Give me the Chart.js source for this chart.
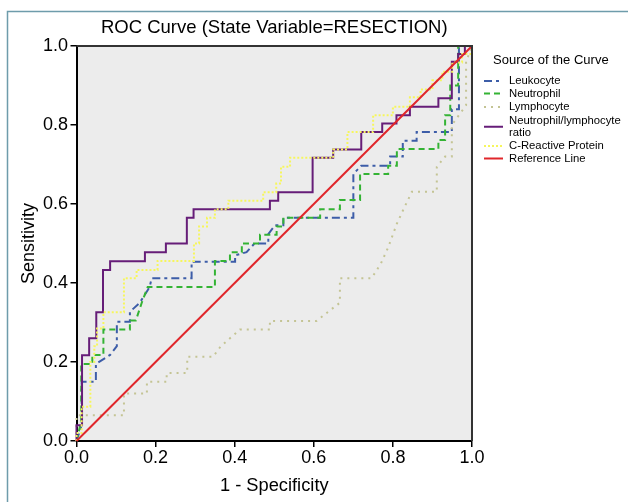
<!DOCTYPE html>
<html>
<head>
<meta charset="utf-8">
<script src="https://cdn.jsdelivr.net/npm/chart.js@4.4.1/dist/chart.umd.min.js"></script>
<style>
  html, body { margin: 0; padding: 0; background: #fff; }
  canvas { display: block; }
</style>
</head>
<body>
<canvas id="rocChart" width="628" height="502"></canvas>
<script>
// values: 1 - specificity (x) and sensitivity (y)
var leukFpr = [0, 0.013, 0.013, 0.049, 0.049, 0.085, 0.102, 0.102, 0.135, 0.135, 0.16, 0.185, 0.19, 0.291, 0.291, 0.401, 0.401, 0.43, 0.45, 0.485, 0.485, 0.502, 0.523, 0.523, 0.70, 0.70, 0.72, 0.793, 0.793, 0.825, 0.825, 0.86, 0.86, 0.949, 0.949, 0.967, 0.967, 1];
var leukTpr = [0, 0.04, 0.15, 0.15, 0.195, 0.218, 0.24, 0.302, 0.302, 0.327, 0.35, 0.39, 0.412, 0.412, 0.454, 0.454, 0.47, 0.478, 0.5, 0.5, 0.524, 0.546, 0.546, 0.565, 0.565, 0.676, 0.697, 0.697, 0.72, 0.72, 0.76, 0.76, 0.782, 0.782, 0.84, 0.84, 1, 1];

var neutFpr = [0, 0.012, 0.012, 0.04, 0.04, 0.068, 0.068, 0.135, 0.135, 0.15, 0.165, 0.18, 0.35, 0.35, 0.388, 0.388, 0.418, 0.418, 0.464, 0.464, 0.506, 0.506, 0.523, 0.523, 0.616, 0.616, 0.666, 0.666, 0.717, 0.717, 0.788, 0.788, 0.81, 0.81, 0.915, 0.915, 0.932, 0.932, 0.945, 0.945, 0.965, 0.965, 1];
var neutTpr = [0, 0.05, 0.195, 0.195, 0.218, 0.218, 0.282, 0.282, 0.305, 0.305, 0.35, 0.39, 0.39, 0.456, 0.456, 0.478, 0.478, 0.5, 0.5, 0.522, 0.522, 0.543, 0.543, 0.565, 0.565, 0.587, 0.587, 0.61, 0.61, 0.676, 0.676, 0.697, 0.697, 0.739, 0.739, 0.762, 0.762, 0.825, 0.825, 0.9, 0.9, 1, 1];

var lymphFpr = [0, 0, 0.12, 0.12, 0.178, 0.178, 0.228, 0.228, 0.28, 0.28, 0.345, 0.365, 0.388, 0.413, 0.489, 0.489, 0.607, 0.64, 0.666, 0.666, 0.746, 0.77, 0.788, 0.81, 0.826, 0.848, 0.911, 0.911, 0.932, 0.949, 0.949, 0.985, 0.985, 1];
var lymphTpr = [0, 0.065, 0.065, 0.12, 0.12, 0.15, 0.15, 0.172, 0.172, 0.213, 0.213, 0.24, 0.26, 0.282, 0.282, 0.304, 0.304, 0.33, 0.35, 0.412, 0.412, 0.45, 0.49, 0.55, 0.585, 0.631, 0.631, 0.694, 0.72, 0.72, 0.8, 0.85, 0.96, 1];

var nlrFpr = [0, 0, 0.014, 0.014, 0.032, 0.032, 0.05, 0.05, 0.067, 0.067, 0.085, 0.085, 0.173, 0.173, 0.226, 0.226, 0.279, 0.279, 0.296, 0.296, 0.489, 0.489, 0.51, 0.51, 0.597, 0.597, 0.649, 0.649, 0.72, 0.72, 0.773, 0.773, 0.809, 0.809, 0.843, 0.843, 0.915, 0.915, 0.949, 0.949, 0.965, 0.965, 0.982, 0.982, 1];
var nlrTpr = [0, 0.04, 0.04, 0.217, 0.217, 0.26, 0.26, 0.326, 0.326, 0.433, 0.433, 0.455, 0.455, 0.478, 0.478, 0.5, 0.5, 0.565, 0.565, 0.587, 0.587, 0.608, 0.608, 0.63, 0.63, 0.717, 0.717, 0.738, 0.738, 0.782, 0.782, 0.804, 0.804, 0.825, 0.825, 0.846, 0.846, 0.868, 0.868, 0.96, 0.96, 0.98, 0.98, 1, 1];

var crpFpr = [0, 0, 0.013, 0.013, 0.035, 0.035, 0.045, 0.045, 0.052, 0.052, 0.068, 0.068, 0.12, 0.12, 0.152, 0.152, 0.205, 0.205, 0.297, 0.297, 0.31, 0.31, 0.33, 0.33, 0.35, 0.35, 0.384, 0.384, 0.472, 0.472, 0.505, 0.505, 0.517, 0.517, 0.54, 0.54, 0.649, 0.649, 0.685, 0.685, 0.75, 0.75, 0.80, 0.80, 0.843, 0.843, 0.87, 0.87, 0.9, 0.9, 0.925, 0.925, 0.95, 0.95, 0.975, 0.975, 1, 1];
var crpTpr = [0, 0.02, 0.02, 0.087, 0.087, 0.2, 0.2, 0.24, 0.24, 0.285, 0.285, 0.326, 0.326, 0.412, 0.412, 0.433, 0.433, 0.456, 0.456, 0.5, 0.5, 0.543, 0.543, 0.565, 0.565, 0.587, 0.587, 0.608, 0.608, 0.63, 0.63, 0.652, 0.652, 0.694, 0.694, 0.717, 0.717, 0.738, 0.738, 0.782, 0.782, 0.825, 0.825, 0.846, 0.846, 0.87, 0.87, 0.89, 0.89, 0.913, 0.913, 0.935, 0.935, 0.958, 0.958, 0.98, 0.98, 1];

var refFpr = [0, 1];
var refTpr = [0, 1];

var seriesNames = ["Leukocyte", "Neutrophil", "Lymphocyte", ["Neutrophil/lymphocyte", "ratio"], "C-Reactive Protein", "Reference Line"];
var tickValues = [0, 0.2, 0.4, 0.6, 0.8, 1.0];

var FONT = "'Liberation Sans', Arial, Helvetica, sans-serif";

function toPoints(xs, ys) {
  var pts = [];
  for (var i = 0; i < xs.length; i++) pts.push({ x: xs[i], y: ys[i] });
  return pts;
}

function line(name, xs, ys, color, dash, order) {
  return {
    label: name,
    data: toPoints(xs, ys),
    showLine: true,
    borderColor: color,
    backgroundColor: color,
    borderWidth: 2,
    borderDash: dash,
    pointRadius: 0,
    pointHoverRadius: 0,
    fill: false,
    tension: 0,
    clip: 4,
    order: order
  };
}

// background, frame, plot box and the legend on the right
const decorations = {
  id: "decorations",
  beforeDraw(chart) {
    const { ctx, chartArea: a } = chart;
    ctx.save();
    ctx.fillStyle = "#fff";
    ctx.fillRect(0, 0, chart.width, chart.height);
    ctx.strokeStyle = "#6e9cab";
    ctx.lineWidth = 1.5;
    ctx.beginPath();
    ctx.moveTo(7.5, chart.height);
    ctx.lineTo(7.5, 11.5);
    ctx.lineTo(chart.width, 11.5);
    ctx.stroke();
    ctx.fillStyle = "#ececec";
    ctx.fillRect(a.left, a.top, a.right - a.left, a.bottom - a.top);
    ctx.restore();
  },
  afterDraw(chart) {
    const { ctx, chartArea: a } = chart;
    ctx.save();
    ctx.strokeStyle = "#333";
    ctx.lineWidth = 2;
    ctx.beginPath();
    ctx.moveTo(a.left, a.top);
    ctx.lineTo(a.right, a.top);
    ctx.lineTo(a.right, a.bottom);
    ctx.stroke();

    // legend
    ctx.fillStyle = "#000";
    ctx.textBaseline = "middle";
    ctx.font = "13px " + FONT;
    ctx.fillText("Source of the Curve", 493, 60);
    ctx.font = "11.3px " + FONT;
    var rows = [[81], [93.5], [107], [120.5, 133], [146], [158.5]];
    chart.data.datasets.forEach(function (ds, i) {
      var name = seriesNames[i];
      var lines = Array.isArray(name) ? name : [name];
      var ys = rows[i];
      var sy = ys.length > 1 ? (ys[0] + ys[1]) / 2 : ys[0];
      ctx.strokeStyle = ds.borderColor;
      ctx.lineWidth = 2;
      ctx.setLineDash(ds.borderDash || []);
      ctx.beginPath();
      ctx.moveTo(484, sy);
      ctx.lineTo(503, sy);
      ctx.stroke();
      ctx.setLineDash([]);
      lines.forEach(function (t, k) {
        ctx.fillText(t, 509, ys[k]);
      });
    });
    ctx.restore();
  }
};

const ctx = document.getElementById("rocChart");

const rocChart = new Chart(ctx, {
  type: "scatter",
  data: {
    datasets: [
      line("Leukocyte", leukFpr, leukTpr, "#3d5da8", [8, 4, 3, 4], 5),
      line("Neutrophil", neutFpr, neutTpr, "#34b334", [6, 4], 4),
      line("Lymphocyte", lymphFpr, lymphTpr, "#c4c494", [2, 5], 3),
      line("Neutrophil/lymphocyte ratio", nlrFpr, nlrTpr, "#661d78", [], 2),
      line("C-Reactive Protein", crpFpr, crpTpr, "#f6f65c", [2, 2], 1),
      line("Reference Line", refFpr, refTpr, "#e0262b", [], 0)
    ]
  },
  options: {
    responsive: false,
    animation: false,
    events: [],
    layout: { padding: { left: 0, right: 156, top: 0, bottom: 0 } },
    plugins: {
      legend: { display: false },
      tooltip: { enabled: false },
      title: {
        display: true,
        text: "ROC Curve (State Variable=RESECTION)",
        fullSize: false,
        color: "#000",
        font: { family: FONT, size: 18.5, weight: "normal" },
        padding: { top: 16.5, bottom: 7.3 }
      }
    },
    scales: {
      x: {
        type: "linear",
        min: 0,
        max: 1,
        afterFit: function (s) { s.height = 61; },
        afterBuildTicks: function (s) { s.ticks = tickValues.map(function (v) { return { value: v }; }); },
        ticks: {
          color: "#000",
          padding: 0,
          font: { family: FONT, size: 18 },
          callback: function (v) { return v.toFixed(1); }
        },
        grid: { drawOnChartArea: false, drawTicks: true, tickLength: 6, color: "#000", lineWidth: 1.5 },
        border: { color: "#000", width: 2 },
        title: {
          display: true,
          text: "1 - Specificity",
          color: "#000",
          font: { family: FONT, size: 18.3 },
          padding: { top: 0, bottom: 5.5 }
        }
      },
      y: {
        type: "linear",
        min: 0,
        max: 1,
        afterFit: function (s) { s.width = 76.5; },
        afterBuildTicks: function (s) { s.ticks = tickValues.map(function (v) { return { value: v }; }); },
        ticks: {
          color: "#000",
          padding: 2.5,
          font: { family: FONT, size: 18 },
          callback: function (v) { return v.toFixed(1); }
        },
        grid: { drawOnChartArea: false, drawTicks: true, tickLength: 6, color: "#000", lineWidth: 1.5 },
        border: { color: "#000", width: 2 },
        title: {
          display: true,
          text: "Sensitivity",
          color: "#000",
          font: { family: FONT, size: 18 },
          padding: { top: 18, bottom: 0 }
        }
      }
    }
  },
  plugins: [decorations]
});
</script>
</body>
</html>
